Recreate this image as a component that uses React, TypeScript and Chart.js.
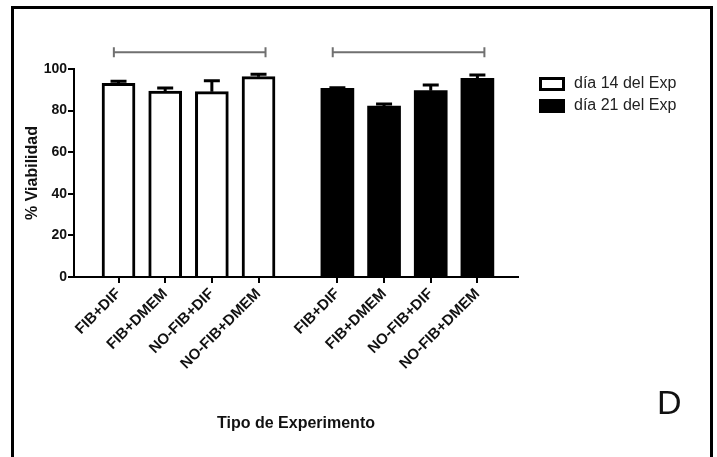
import React, { useEffect, useRef } from "react";
import { Chart, registerables } from "chart.js";

Chart.register(...registerables);

// ---- data ----
const categories = ["FIB+DIF", "FIB+DMEM", "NO-FIB+DIF", "NO-FIB+DMEM"];
const seriesLabels = ["día 14 del Exp", "día 21 del Exp"];
const day14Values = [93.1, 89.4, 89.1, 96.3];
const day14Errors = [1.0, 1.5, 5.3, 1.2];
const day21Values = [90.7, 82.2, 89.6, 95.5];
const day21Errors = [0.3, 1.0, 2.7, 1.6];
const yTickValues = [0, 20, 40, 60, 80, 100];
const bracketLevel = 108;
const xTitle = "Tipo de Experimento";
const yTitle = "% Viabilidad";
const panelLabel = "D";

// ---- layout constants ----
const GROUP_GAP = 1.69;
const FONT = "'Liberation Sans', Arial, Helvetica, sans-serif";

const pos14 = categories.map((_, i) => i + 1);
const pos21 = categories.map((_, i) => i + categories.length + GROUP_GAP);
const tickPositions = [...pos14, ...pos21];
const tickLabels = [...categories, ...categories];
const errorsByDataset = [day14Errors, day21Errors];
const valuesByDataset = [day14Values, day21Values];

const decorPlugin = {
  id: "decor",
  beforeDraw(chart: any) {
    const ctx = chart.ctx;
    ctx.save();
    ctx.fillStyle = "#fff";
    ctx.fillRect(0, 0, chart.width, chart.height);
    ctx.strokeStyle = "#000";
    ctx.lineWidth = 3;
    ctx.strokeRect(12.5, 7.5, chart.width - 18, chart.height + 40);
    ctx.restore();
  },
  afterDatasetsDraw(chart: any) {
    const ctx = chart.ctx;
    const ys = chart.scales.y;
    ctx.save();
    ctx.strokeStyle = "#000";
    ctx.lineWidth = 3;
    chart.data.datasets.forEach((_: any, d: number) => {
      const meta = chart.getDatasetMeta(d);
      meta.data.forEach((el: any, i: number) => {
        const v = valuesByDataset[d][i];
        const e = errorsByDataset[d][i];
        const top = ys.getPixelForValue(v + e);
        ctx.beginPath();
        ctx.moveTo(el.x, el.y);
        ctx.lineTo(el.x, top);
        ctx.moveTo(el.x - 8, top);
        ctx.lineTo(el.x + 8, top);
        ctx.stroke();
      });
    });
    ctx.restore();
  },
  afterDraw(chart: any) {
    const ctx = chart.ctx;
    const xs = chart.scales.x;
    const ys = chart.scales.y;
    const area = chart.chartArea;
    ctx.save();
    // brackets over each group
    ctx.strokeStyle = "#707070";
    ctx.lineWidth = 2;
    const yb = ys.getPixelForValue(bracketLevel);
    [pos14, pos21].forEach((g) => {
      const x1 = xs.getPixelForValue(g[0] - 0.1);
      const x2 = xs.getPixelForValue(g[g.length - 1] + 0.15);
      ctx.beginPath();
      ctx.moveTo(x1, yb);
      ctx.lineTo(x2, yb);
      ctx.moveTo(x1, yb - 5);
      ctx.lineTo(x1, yb + 5);
      ctx.moveTo(x2, yb - 5);
      ctx.lineTo(x2, yb + 5);
      ctx.stroke();
    });
    // legend
    const lx = area.right + 21;
    const ly = area.top + 15;
    chart.data.datasets.forEach((ds: any, i: number) => {
      const cy = ly + i * 22;
      if (ds.borderWidth) {
        ctx.fillStyle = ds.backgroundColor;
        ctx.fillRect(lx, cy - 6, 26, 12);
        ctx.strokeStyle = ds.borderColor;
        ctx.lineWidth = 3;
        ctx.strokeRect(lx + 1.5, cy - 5.5, 23, 11);
      } else {
        ctx.fillStyle = ds.backgroundColor;
        ctx.fillRect(lx, cy - 7, 26, 14);
      }
      ctx.fillStyle = "#222";
      ctx.font = `16px ${FONT}`;
      ctx.textBaseline = "middle";
      ctx.textAlign = "left";
      ctx.fillText(seriesLabels[i], lx + 35, cy);
    });
    // panel label
    ctx.fillStyle = "#111";
    ctx.font = `34px ${FONT}`;
    ctx.textBaseline = "alphabetic";
    ctx.textAlign = "left";
    ctx.fillText(panelLabel, chart.width - 60, 414);
    ctx.restore();
  },
};

export default function App() {
  const ref = useRef<HTMLCanvasElement>(null);
  useEffect(() => {
    const barCommon = {
      grouped: false,
      barPercentage: 1,
      categoryPercentage: 1,
      maxBarThickness: 33,
    };
    const chart = new Chart(ref.current as HTMLCanvasElement, {
      type: "bar",
      data: {
        datasets: [
          {
            ...barCommon,
            label: seriesLabels[0],
            data: pos14.map((x, i) => ({ x, y: day14Values[i] })),
            backgroundColor: "#ffffff",
            borderColor: "#000000",
            borderWidth: 3,
          },
          {
            ...barCommon,
            label: seriesLabels[1],
            data: pos21.map((x, i) => ({ x, y: day21Values[i] })),
            backgroundColor: "#000000",
            borderColor: "#000000",
            borderWidth: 0,
          },
        ],
      } as any,
      options: {
        responsive: false,
        animation: false,
        events: [],
        layout: { padding: { top: 69, right: 199, bottom: 0, left: 0 } },
        plugins: { legend: { display: false }, tooltip: { enabled: false } },
        scales: {
          x: {
            type: "linear",
            min: 0.046,
            max: 9.56,
            offset: false,
            bounds: "data",
            afterBuildTicks: (s: any) => {
              s.ticks = tickPositions.map((v) => ({ value: v }));
            },
            afterFit: (s: any) => {
              s.height = 180;
            },
            grid: {
              offset: false,
              drawOnChartArea: false,
              drawTicks: true,
              tickLength: 6,
              color: "#000",
              lineWidth: 2,
            },
            border: { display: true, color: "#000", width: 2 },
            ticks: {
              autoSkip: false,
              minRotation: 45,
              maxRotation: 45,
              padding: 2,
              color: "#111",
              font: { family: FONT, size: 15, weight: "bold" },
              callback: (_v: any, i: number) => tickLabels[i],
            },
            title: {
              display: true,
              text: xTitle,
              color: "#111",
              font: { family: FONT, size: 16, weight: "bold" },
              padding: { top: 0, bottom: 24 },
            },
          },
          y: {
            min: 0,
            max: 100,
            afterBuildTicks: (s: any) => {
              s.ticks = yTickValues.map((v) => ({ value: v }));
            },
            afterFit: (s: any) => {
              s.width = 74;
            },
            grid: {
              drawOnChartArea: false,
              drawTicks: true,
              tickLength: 6,
              color: "#000",
              lineWidth: 2,
            },
            border: { display: true, color: "#000", width: 2 },
            ticks: {
              padding: 1,
              color: "#111",
              font: { family: FONT, size: 14, weight: "bold" },
            },
            title: {
              display: true,
              text: yTitle,
              color: "#111",
              font: { family: FONT, size: 16, weight: "bold" },
              padding: { top: 23, bottom: 0 },
            },
          },
        },
      } as any,
      plugins: [decorPlugin],
    });
    return () => chart.destroy();
  }, []);
  return (
    <div style={{ position: "absolute", left: 0, top: 0, width: 717, height: 457, background: "#fff" }}>
      <canvas ref={ref} width={717} height={457} style={{ display: "block" }} />
    </div>
  );
}
